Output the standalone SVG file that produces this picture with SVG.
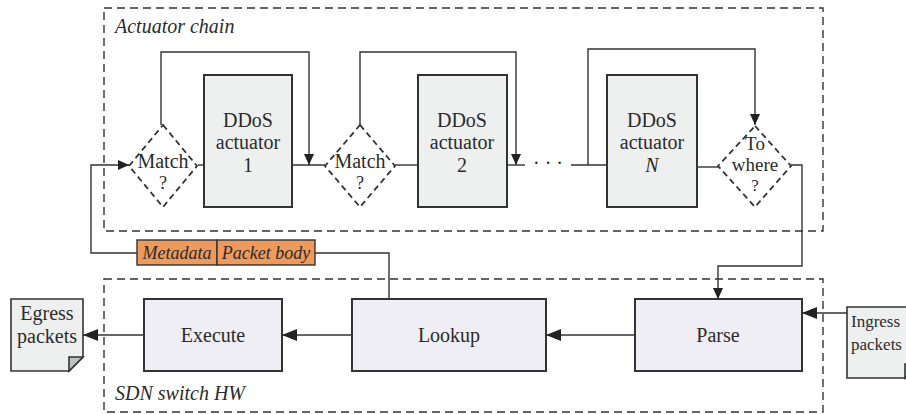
<svg xmlns="http://www.w3.org/2000/svg" width="906" height="414" viewBox="0 0 906 414">
  <style>
    .lbl { font-family: "Liberation Serif", "Times New Roman", serif; font-size: 20px; fill: #2b2b2b; }
    .it { font-style: italic; }
    .frame { fill: none; stroke: #333; stroke-width: 1.4; stroke-dasharray: 8 5; }
    .act { fill: #eef0f0; stroke: #333; stroke-width: 2; }
    .stage { fill: #efeef4; stroke: #333; stroke-width: 2; }
    .doc { fill: #eef0f0; stroke: #333; stroke-width: 1.6; }
    .dia { fill: #fff; stroke: #333; stroke-width: 1.8; stroke-dasharray: 6 4; }
    .wire { fill: none; stroke: #333; stroke-width: 1.4; }
    .tag { fill: #ed9a5c; stroke: #333; stroke-width: 1.4; }
  </style>
  <defs>
    <marker id="arrS" markerUnits="userSpaceOnUse" markerWidth="11" markerHeight="10" refX="11" refY="5" orient="auto">
      <path d="M0,0 L11,5 L0,10 Z" fill="#222"/>
    </marker>
    <marker id="arrL" markerUnits="userSpaceOnUse" markerWidth="15" markerHeight="12" refX="15" refY="6" orient="auto">
      <path d="M0,0 L15,6 L0,12 Z" fill="#222"/>
    </marker>
  </defs>

  <!-- frames -->
  <g id="actuator-chain-frame">
    <rect class="frame" x="104" y="8" width="719" height="223"/>
    <text class="lbl it" x="115" y="33">Actuator chain</text>
  </g>
  <g id="switch-frame">
    <rect class="frame" x="104" y="279" width="719" height="133"/>
    <text class="lbl it" x="115" y="400">SDN switch HW</text>
  </g>

  <!-- connectors -->
  <g id="connectors">
    <!-- chain flow -->
    <path class="wire" d="M198,165 H204"/>
    <path class="wire" d="M292,165 H325"/>
    <path class="wire" d="M395,165 H418"/>
    <path class="wire" d="M507,165 H525"/>
    <path class="wire" d="M571,165 H607"/>
    <path class="wire" d="M697,167 H718"/>
    <!-- bypass loops -->
    <path class="wire" d="M161,125 V52 H309 V165" marker-end="url(#arrS)"/>
    <path class="wire" d="M360,125 V52 H516 V165" marker-end="url(#arrS)"/>
    <path class="wire" d="M588,165 V49 H755 V125" marker-end="url(#arrS)"/>
    <!-- chain exit to parser -->
    <path class="wire" d="M791,165 H802 V266 H718 V299" marker-end="url(#arrS)"/>
    <!-- lookup to chain entry -->
    <path class="wire" d="M389,299 V253 H315"/>
    <path class="wire" d="M137,253 H91 V165 H129" marker-end="url(#arrS)"/>
    <!-- pipeline -->
    <path class="wire" d="M847,313 H802" marker-end="url(#arrL)"/>
    <path class="wire" d="M635,335 H546" marker-end="url(#arrL)"/>
    <path class="wire" d="M352,335 H282" marker-end="url(#arrL)"/>
    <path class="wire" d="M144,335 H83" marker-end="url(#arrL)"/>
  </g>

  <!-- match decisions -->
  <g id="match1">
    <polygon class="dia" points="163,125 197,166 163,207 129,166"/>
    <text class="lbl" x="163" y="168" text-anchor="middle">Match</text>
    <text class="lbl" x="163" y="189" text-anchor="middle" style="font-size:18px">?</text>
  </g>
  <g id="match2">
    <polygon class="dia" points="360,125 395,166 360,207 325,166"/>
    <text class="lbl" x="360" y="168" text-anchor="middle">Match</text>
    <text class="lbl" x="360" y="189" text-anchor="middle" style="font-size:18px">?</text>
  </g>
  <g id="to-where">
    <polygon class="dia" points="755,126 791,166 755,207 718,166"/>
    <text class="lbl" x="755" y="150" text-anchor="middle" style="font-size:19px">To</text>
    <text class="lbl" x="755" y="171" text-anchor="middle" style="font-size:19px">where</text>
    <text class="lbl" x="755" y="191" text-anchor="middle" style="font-size:17px">?</text>
  </g>

  <!-- actuators -->
  <g id="actuator1">
    <rect class="act" x="204" y="75" width="88" height="132"/>
    <text class="lbl" x="248" y="127" text-anchor="middle">DDoS</text>
    <text class="lbl" x="248" y="149" text-anchor="middle">actuator</text>
    <text class="lbl" x="248" y="172" text-anchor="middle">1</text>
  </g>
  <g id="actuator2">
    <rect class="act" x="418" y="75" width="89" height="132"/>
    <text class="lbl" x="462" y="127" text-anchor="middle">DDoS</text>
    <text class="lbl" x="462" y="149" text-anchor="middle">actuator</text>
    <text class="lbl" x="462" y="172" text-anchor="middle">2</text>
  </g>
  <g id="ellipsis">
    <text class="lbl" x="548" y="170" text-anchor="middle">· · ·</text>
  </g>
  <g id="actuatorN">
    <rect class="act" x="607" y="75" width="90" height="132"/>
    <text class="lbl" x="652" y="127" text-anchor="middle">DDoS</text>
    <text class="lbl" x="652" y="149" text-anchor="middle">actuator</text>
    <text class="lbl it" x="652" y="172" text-anchor="middle">N</text>
  </g>

  <!-- packet header tag -->
  <g id="packet-tag">
    <rect class="tag" x="137" y="240" width="80" height="25"/>
    <rect class="tag" x="217" y="240" width="98" height="25"/>
    <text class="lbl it" x="177" y="259" text-anchor="middle" style="font-size:18px">Metadata</text>
    <text class="lbl it" x="266" y="259" text-anchor="middle" style="font-size:18px">Packet body</text>
  </g>

  <!-- switch pipeline stages -->
  <g id="execute">
    <rect class="stage" x="144" y="299" width="138" height="72"/>
    <text class="lbl" x="213" y="342" text-anchor="middle">Execute</text>
  </g>
  <g id="lookup">
    <rect class="stage" x="352" y="299" width="194" height="72"/>
    <text class="lbl" x="449" y="342" text-anchor="middle">Lookup</text>
  </g>
  <g id="parse">
    <rect class="stage" x="635" y="299" width="167" height="72"/>
    <text class="lbl" x="718" y="342" text-anchor="middle">Parse</text>
  </g>

  <!-- packet documents -->
  <g id="egress">
    <path class="doc" d="M11,299 H83 V357 L69,371 H11 Z"/>
    <path class="doc" d="M83,357 H69 V371 Z" style="fill:#bfc2c2"/>
    <text class="lbl" x="47" y="320" text-anchor="middle">Egress</text>
    <text class="lbl" x="47" y="343" text-anchor="middle">packets</text>
  </g>
  <!-- document shape runs past the right edge of the canvas -->
  <g id="ingress">
    <path class="doc" d="M847,307 H919 V364 L905,378 H847 Z"/>
    <path class="doc" d="M919,364 H905 V378 Z" style="fill:#bfc2c2"/>
    <text class="lbl" x="851" y="327" style="font-size:17px">Ingress</text>
    <text class="lbl" x="851" y="350" style="font-size:17px">packets</text>
  </g>
</svg>
